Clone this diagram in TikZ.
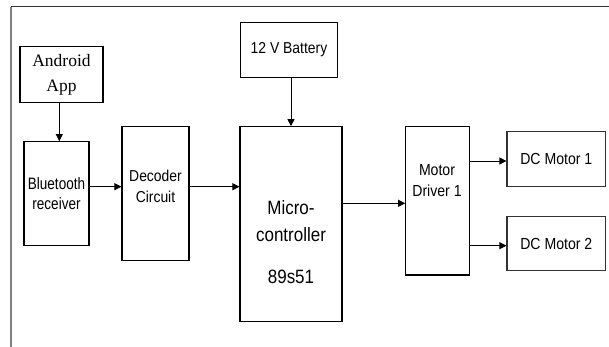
\documentclass[tikz,border=0pt]{standalone}
\usepackage{fontspec}
\setmainfont{Liberation Serif}
\newfontfamily\arl[FakeStretch=0.88]{Liberation Sans}
\newfontfamily\arn[FakeStretch=0.82]{Liberation Sans}
\usetikzlibrary{arrows.meta}
\begin{document}
\begin{tikzpicture}[x=1pt,y=-1pt,
  box/.style={draw=black,line width=1.1pt,inner sep=0pt},
  txt/.style={align=center,inner sep=0pt,font=\arl\fontsize{16}{21}\selectfont},
  arr/.style={draw=black,line width=0.8pt,-{Triangle[length=7pt,width=7pt]}}]
\useasboundingbox (0,0) rectangle (609,347);
% frame
\draw[draw=black!80,line width=1.6pt] (11,6.7) coordinate (ftl) -- (609,6.7) coordinate (ftr);
\draw[draw=black!50,line width=1.1pt] (ftl) -- (11,347) coordinate (fbl);
% boxes
\node[box,minimum width=83,minimum height=55.6,align=center,
  font=\fontsize{17.5}{25}\selectfont] (android) at (61.5,74.5) {Android\\App};
\node[box,minimum width=97.7,minimum height=54.6,txt,font=\arl\fontsize{15.8}{20}\selectfont] (bat) at (289,50) {12 V Battery};
\node[box,minimum width=65,minimum height=104,txt,font=\arn\fontsize{16.5}{19.5}\selectfont] (bt) at (56.5,193.7) {Bluetooth\\receiver};
\node[box,minimum width=67,minimum height=134] (dec) at (155.5,193.7) {};
\node[txt,font=\arl\fontsize{15.8}{21}\selectfont] (dect) at (155.5,186.5) {Decoder\\Circuit};
\node[box,minimum width=102,minimum height=194.6] (mc) at (291,224) {};
\node[txt,font=\arl\fontsize{19.3}{26.5}\selectfont] (mct) at (291,221) {Micro-\\controller};
\node[txt,font=\arl\fontsize{19.3}{24}\selectfont] (mcn) at (291,277) {89s51};
\node[box,minimum width=63.6,minimum height=148.3] (md) at (437.5,200.8) {};
\node[txt,font=\arl\fontsize{16}{21.7}\selectfont] (mdt) at (437,180.5) {Motor\\Driver 1};
\node[box,draw=black!80,minimum width=98.7,minimum height=55,txt] (m1) at (556.3,159.2) {DC Motor 1};
\node[box,draw=black!80,minimum width=98.7,minimum height=54,txt] (m2) at (556.3,243.7) {DC Motor 2};
% connectors
\draw[arr] ([xshift=-2.2pt]android.south) -- ([xshift=-2.2pt]android.south |- bt.north);
\draw[arr] (mc.north |- bat.south) -- (mc.north);
\draw[arr] ([yshift=7pt]bt.east) -- ([yshift=7pt]bt.east -| dec.west);
\draw[arr] ([yshift=7pt]dec.east) -- ([yshift=7pt]dec.east -| mc.west);
\draw[arr] ([yshift=20.7pt]mc.east) -- ([yshift=20.7pt]mc.east -| md.west);
\draw[arr] ([yshift=-1.8pt]m1.west -| md.east) -- ([yshift=-1.8pt]m1.west);
\draw[arr] ([yshift=-2pt]m2.west -| md.east) -- ([yshift=-2pt]m2.west);
\end{tikzpicture}
\end{document}
